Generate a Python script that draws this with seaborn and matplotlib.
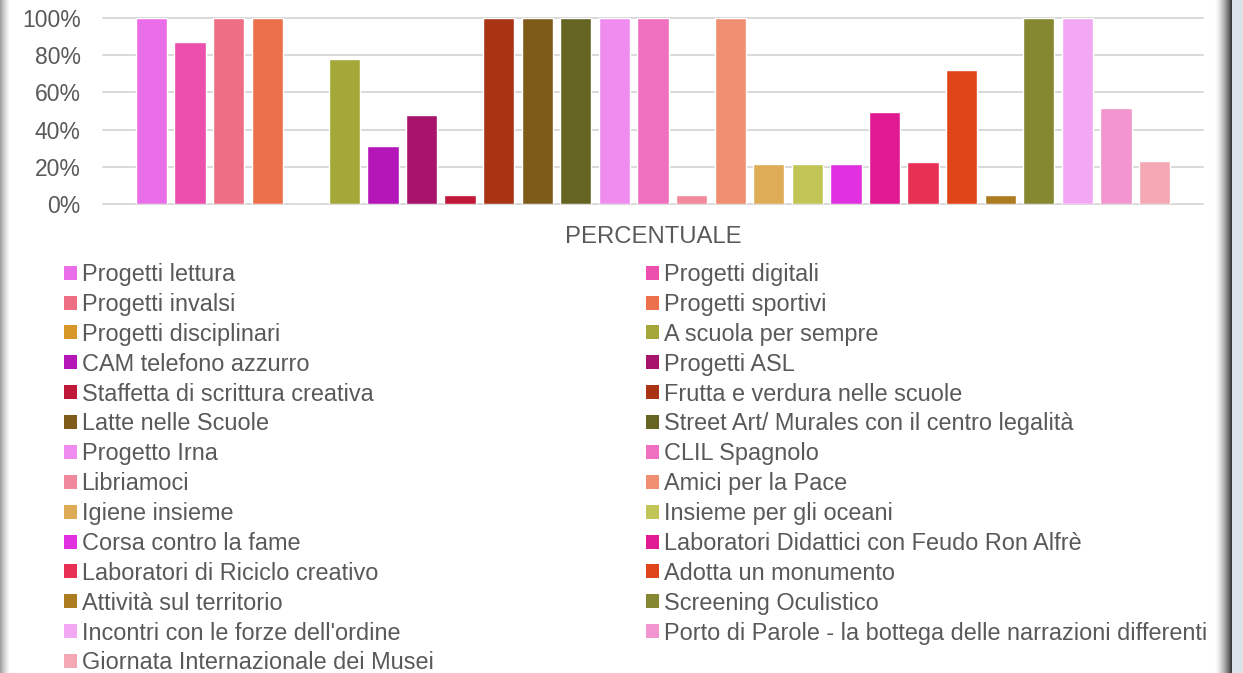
import matplotlib
matplotlib.use("Agg")
import matplotlib.pyplot as plt
import seaborn as sns
import pandas as pd
from matplotlib.patches import Patch, Rectangle
from matplotlib.ticker import PercentFormatter

# ---------------- data ----------------
category = "PERCENTUALE"
series = [
    "Progetti lettura", "Progetti digitali",
    "Progetti invalsi", "Progetti sportivi",
    "Progetti disciplinari", "A scuola per sempre",
    "CAM telefono azzurro", "Progetti ASL",
    "Staffetta di scrittura creativa", "Frutta e verdura nelle scuole",
    "Latte nelle Scuole", "Street Art/ Murales con il centro legalità",
    "Progetto Irna", "CLIL Spagnolo",
    "Libriamoci", "Amici per la Pace",
    "Igiene insieme", "Insieme per gli oceani",
    "Corsa contro la fame", "Laboratori Didattici con Feudo Ron Alfrè",
    "Laboratori di Riciclo creativo", "Adotta un monumento",
    "Attività sul territorio", "Screening Oculistico",
    "Incontri con le forze dell'ordine", "Porto di Parole - la bottega delle narrazioni differenti",
    "Giornata Internazionale dei Musei",
]
values = [
    100, 87,
    100, 100,
    0, 78,
    31, 48,
    5, 100,
    100, 100,
    100, 100,
    5, 100,
    21.5, 21.5,
    21.5, 49.5,
    22.5, 72,
    5, 100,
    100, 51.5,
    23,
]
colors = [
    "#EA6EEA", "#EC4FAE",
    "#EE6E84", "#EC704C",
    "#D89828", "#A3A838",
    "#B516B8", "#A8146B",
    "#BF1838", "#A83414",
    "#7F5B19", "#666423",
    "#F08CF0", "#EF70BE",
    "#F0899C", "#EF8E70",
    "#DEAB56", "#C0C556",
    "#E030E0", "#E11A94",
    "#E82F54", "#E04519",
    "#AD7B20", "#858830",
    "#F3A8F3", "#F294CD",
    "#F3A8B4",
]
yticks = [0, 20, 40, 60, 80, 100]

df = pd.DataFrame({
    "categoria": [category] * len(series),
    "progetto": series,
    "valore": values,
})

# ---------------- style ----------------
sns.set_theme(style="white")
plt.rcParams["font.family"] = ["Liberation Sans", "DejaVu Sans"]
TXT = "#595959"
GRID = "#D9D9D9"
W, H = 1243, 673

fig = plt.figure(figsize=(W / 100, H / 100), dpi=100)
fig.patch.set_facecolor("white")

ax = fig.add_axes([103 / W, 1 - 204 / H, 1100 / W, 186 / H])
sns.barplot(
    data=df, x="categoria", y="valore", hue="progetto",
    hue_order=series, palette=colors, saturation=1,
    width=0.947, gap=0.19, ax=ax, legend=False, zorder=3,
)
ax.set_xlim(-0.5, 0.5)
ax.set_ylim(0, 100)
for y in yticks:
    ax.axhline(y, color=GRID, lw=1.4, zorder=1, clip_on=False)
ax.grid(False)
for s in ax.spines.values():
    s.set_visible(False)

ax.set_yticks(yticks)
ax.yaxis.set_major_formatter(PercentFormatter(decimals=0))
ax.tick_params(axis="y", length=0, pad=16, labelsize=16.5, labelcolor=TXT)
ax.tick_params(axis="x", length=0, pad=15.5, labelsize=17.2, labelcolor=TXT)
ax.set_xlabel("")
ax.set_ylabel("")

# ---------------- legend (two columns, row-major order) ----------------
handles = [Patch(facecolor=c, edgecolor="none", label=s) for s, c in zip(series, colors)]
common = dict(
    loc="upper left", frameon=False, fontsize=16.9,
    handlelength=0.54, handleheight=0.54, handletextpad=0.21,
    labelspacing=0.293, borderpad=0, borderaxespad=0, labelcolor=TXT,
)
fig.legend(handles=handles[0::2], bbox_to_anchor=(64 / W, 1 - 263 / H), **common)
fig.legend(handles=handles[1::2], bbox_to_anchor=(646 / W, 1 - 263 / H), **common)

# ---------------- frame decorations ----------------
for i in range(10):
    g = 0.62 + 0.38 * (i / 9) ** 0.8
    fig.add_artist(Rectangle((i / W, 0), 1 / W, 1, transform=fig.transFigure,
                             facecolor=(g, g, g), edgecolor="none", zorder=0))
for i in range(18):
    t = i / 17
    g = 1.0 - 0.78 * t ** 1.6
    fig.add_artist(Rectangle((1214 / W + i / W, 0), 1 / W, 1, transform=fig.transFigure,
                             facecolor=(g, g, g), edgecolor="none", zorder=0))
fig.add_artist(Rectangle((1232 / W, 0), 11 / W, 1, transform=fig.transFigure,
                         facecolor="#DCE3E8", edgecolor="none", zorder=0))

fig.savefig("out.png", dpi=100, facecolor="white")
